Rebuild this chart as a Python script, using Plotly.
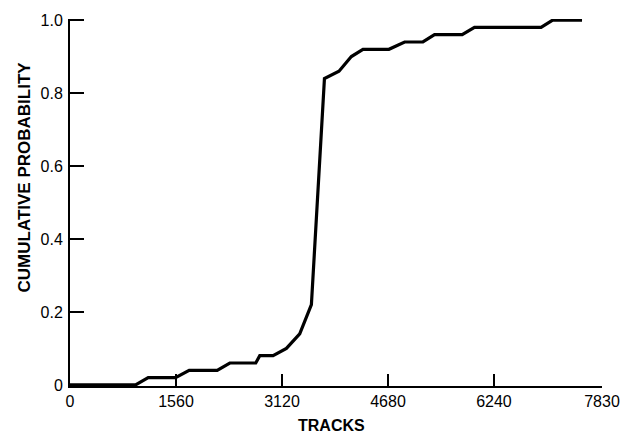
import plotly.graph_objects as go

# Data
tracks = [0, 965, 1151, 1553, 1754, 2166, 2352, 2734, 2793, 2989, 3185, 3381, 3553,
          3745, 3959, 4141, 4312, 4694, 4925, 5194, 5365, 5772, 5953, 6933, 7104, 7536]
cum_prob = [0.0, 0.0, 0.02, 0.02, 0.04, 0.04, 0.06, 0.06, 0.08, 0.08, 0.10, 0.14, 0.22,
            0.84, 0.86, 0.90, 0.92, 0.92, 0.94, 0.94, 0.96, 0.96, 0.98, 0.98, 1.0, 1.0]

x_tickvals = [0, 1560, 3120, 4680, 6240, 7830]
x_ticktext = ["0", "1560", "3120", "4680", "6240", "7830"]
y_tickvals = [0, 0.2, 0.4, 0.6, 0.8, 1.0]
y_ticktext = ["0", "0.2", "0.4", "0.6", "0.8", "1.0"]

FONT = "Liberation Sans, Arial, Helvetica, sans-serif"

fig = go.Figure()
fig.add_trace(go.Scatter(
    x=tracks, y=cum_prob, mode="lines",
    line=dict(color="black", width=3.2),
    showlegend=False, hoverinfo="skip",
))

fig.update_layout(
    width=632, height=434,
    margin=dict(l=70, r=29, t=13, b=48),
    paper_bgcolor="white", plot_bgcolor="white",
    font=dict(family=FONT, size=16, color="black"),
    xaxis=dict(
        range=[0, 7830], tickmode="array", tickvals=x_tickvals, ticktext=x_ticktext,
        ticks="inside", ticklen=12, tickwidth=2, tickcolor="black",
        showline=True, linewidth=2, linecolor="black",
        showgrid=False, zeroline=False,
        tickfont=dict(family=FONT, size=16, color="black"),
    ),
    yaxis=dict(
        range=[-0.003, 1.003], tickmode="array", tickvals=y_tickvals, ticktext=y_ticktext,
        ticks="inside", ticklen=14, tickwidth=2, tickcolor="black",
        showline=True, linewidth=2, linecolor="black",
        showgrid=False, zeroline=False, ticklabelstandoff=2,
        tickfont=dict(family=FONT, size=16, color="black"),
    ),
    annotations=[
        dict(text="<b>TRACKS</b>", xref="paper", yref="paper",
             x=(332 - 70) / 533, y=(386 - 426) / 373, xanchor="center", yanchor="middle",
             showarrow=False, font=dict(family=FONT, size=16, color="black")),
        dict(text="<b>CUMULATIVE PROBABILITY</b>", xref="paper", yref="paper",
             x=(24 - 70) / 533, y=(386 - 174) / 373, xanchor="center", yanchor="middle",
             textangle=-90, showarrow=False, font=dict(family=FONT, size=17, color="black")),
    ],
)

fig.write_html("out.html")
